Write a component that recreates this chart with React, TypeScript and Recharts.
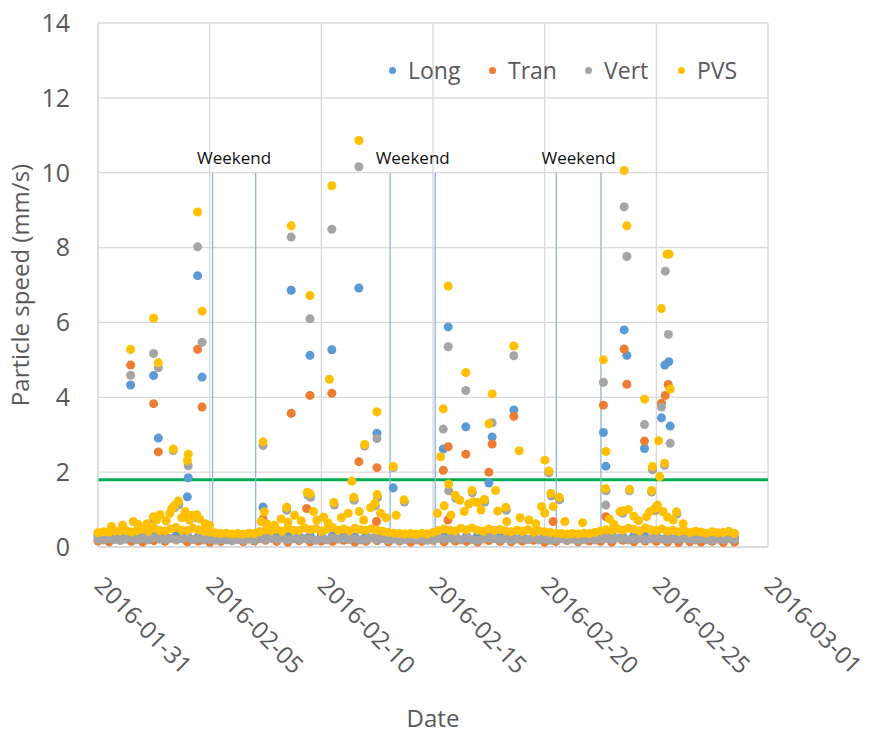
import React from 'react';
import {
  ScatterChart, Scatter, XAxis, YAxis, ZAxis, CartesianGrid, ReferenceLine, ReferenceDot,
} from 'recharts';

// x values are days after 2016-01-31
const xTicks = [0, 5, 10, 15, 20, 25, 30];
const xTickLabels = ['2016-01-31', '2016-02-05', '2016-02-10', '2016-02-15', '2016-02-20', '2016-02-25', '2016-03-01'];
const yTicks = [0, 2, 4, 6, 8, 10, 12, 14];

const seriesNames = ['Long', 'Tran', 'Vert', 'PVS'];
const seriesColors = ['#5B9BD5', '#ED7D31', '#A5A5A5', '#FFC000'];

const limitValue = 1.8;
const weekendStarts = [5.13, 13.08, 20.52];
const weekendEnds = [7.06, 15.1, 22.52];
const weekendTop = 10;
const weekendLabelY = 10.4;

// 6-hourly background readings
const baseTimes = [
  0, 0.25, 0.5, 0.75, 1, 1.25, 1.5, 1.75, 2, 2.25, 2.5, 2.75, 3, 3.25, 3.5, 3.75,
  4, 4.25, 4.5, 4.75, 5, 5.25, 5.5, 5.75, 6, 6.25, 6.5, 6.75, 7, 7.25, 7.5, 7.75,
  8, 8.25, 8.5, 8.75, 9, 9.25, 9.5, 9.75, 10, 10.25, 10.5, 10.75, 11, 11.25, 11.5, 11.75,
  12, 12.25, 12.5, 12.75, 13, 13.25, 13.5, 13.75, 14, 14.25, 14.5, 14.75, 15, 15.25, 15.5, 15.75,
  16, 16.25, 16.5, 16.75, 17, 17.25, 17.5, 17.75, 18, 18.25, 18.5, 18.75, 19, 19.25, 19.5, 19.75,
  20, 20.25, 20.5, 20.75, 21, 21.25, 21.5, 21.75, 22, 22.25, 22.5, 22.75, 23, 23.25, 23.5, 23.75,
  24, 24.25, 24.5, 24.75, 25, 25.25, 25.5, 25.75, 26, 26.25, 26.5, 26.75, 27, 27.25, 27.5, 27.75,
  28, 28.25, 28.5,
];
const pvsBase = [
  0.38, 0.41, 0.40, 0.43, 0.42, 0.45, 0.40, 0.44, 0.47, 0.42, 0.50, 0.44, 0.43, 0.48, 0.52, 0.45,
  0.44, 0.50, 0.46, 0.42, 0.40, 0.38, 0.36, 0.37, 0.35, 0.36, 0.34, 0.37, 0.36, 0.41, 0.45, 0.43,
  0.47, 0.42, 0.50, 0.45, 0.44, 0.51, 0.46, 0.49, 0.42, 0.47, 0.52, 0.45, 0.48, 0.43, 0.50, 0.46,
  0.45, 0.49, 0.44, 0.42, 0.39, 0.37, 0.36, 0.35, 0.36, 0.34, 0.37, 0.35, 0.39, 0.44, 0.48, 0.45,
  0.43, 0.50, 0.46, 0.51, 0.45, 0.42, 0.48, 0.44, 0.47, 0.43, 0.41, 0.45, 0.42, 0.46, 0.40, 0.43,
  0.41, 0.39, 0.37, 0.36, 0.34, 0.36, 0.35, 0.37, 0.36, 0.39, 0.43, 0.46, 0.44, 0.49, 0.45, 0.50,
  0.47, 0.43, 0.51, 0.46, 0.44, 0.48, 0.42, 0.45, 0.41, 0.44, 0.39, 0.42, 0.40, 0.37, 0.41, 0.38,
  0.39, 0.42, 0.36,
];
const vertBase = [
  0.21, 0.19, 0.22, 0.20, 0.18, 0.21, 0.23, 0.20, 0.22, 0.19, 0.24, 0.21, 0.20, 0.23, 0.19, 0.22,
  0.24, 0.20, 0.22, 0.19, 0.21, 0.18, 0.20, 0.19, 0.17, 0.20, 0.18, 0.21, 0.19, 0.22, 0.20, 0.23,
  0.21, 0.24, 0.19, 0.22, 0.20, 0.23, 0.21, 0.18, 0.22, 0.19, 0.24, 0.21, 0.23, 0.20, 0.22, 0.19,
  0.21, 0.24, 0.20, 0.22, 0.19, 0.21, 0.18, 0.20, 0.22, 0.19, 0.21, 0.18, 0.20, 0.23, 0.21, 0.24,
  0.22, 0.19, 0.23, 0.20, 0.18, 0.21, 0.24, 0.22, 0.20, 0.23, 0.19, 0.21, 0.22, 0.20, 0.24, 0.19,
  0.21, 0.18, 0.20, 0.22, 0.19, 0.21, 0.18, 0.20, 0.22, 0.19, 0.21, 0.23, 0.20, 0.24, 0.22, 0.19,
  0.21, 0.23, 0.20, 0.22, 0.24, 0.21, 0.19, 0.22, 0.20, 0.23, 0.21, 0.19, 0.22, 0.20, 0.18, 0.21,
  0.19, 0.22, 0.20,
];

// 12-hourly background readings
const halfTimes = [
  0, 0.5, 1, 1.5, 2, 2.5, 3, 3.5, 4, 4.5, 5, 5.5, 6, 6.5, 7, 7.5, 8, 8.5, 9, 9.5,
  10, 10.5, 11, 11.5, 12, 12.5, 13, 13.5, 14, 14.5, 15, 15.5, 16, 16.5, 17, 17.5, 18, 18.5, 19, 19.5,
  20, 20.5, 21, 21.5, 22, 22.5, 23, 23.5, 24, 24.5, 25, 25.5, 26, 26.5, 27, 27.5, 28, 28.5,
];
const longBase = [
  0.30, 0.28, 0.32, 0.29, 0.31, 0.33, 0.28, 0.30, 0.32, 0.29,
  0.27, 0.29, 0.31, 0.33, 0.30, 0.28, 0.32, 0.30, 0.29, 0.31,
  0.33, 0.30, 0.28, 0.27, 0.29, 0.31, 0.32, 0.30, 0.28, 0.29,
  0.31, 0.33, 0.30, 0.29, 0.32, 0.28, 0.30, 0.31, 0.29, 0.27,
  0.28, 0.30, 0.29, 0.31, 0.33, 0.30, 0.32, 0.29, 0.31, 0.28,
  0.30, 0.29, 0.27, 0.28, 0.30, 0.29, 0.28, 0.27,
];
const tranBase = [
  0.16, 0.14, 0.18, 0.15, 0.13, 0.17, 0.15, 0.19, 0.14, 0.16,
  0.13, 0.15, 0.17, 0.14, 0.16, 0.18, 0.15, 0.13, 0.17, 0.14,
  0.16, 0.15, 0.18, 0.13, 0.15, 0.17, 0.14, 0.16, 0.13, 0.15,
  0.18, 0.14, 0.16, 0.15, 0.13, 0.17, 0.15, 0.14, 0.16, 0.18,
  0.13, 0.15, 0.17, 0.14, 0.16, 0.15, 0.13, 0.18, 0.14, 0.16,
  0.15, 0.13, 0.12, 0.14, 0.13, 0.15, 0.12, 0.13,
];

// moderate weekday readings [day, mm/s]
const pvsMid = [
  [0.6, 0.55], [1.1, 0.58], [1.58, 0.68], [1.8, 0.6], [2.2, 0.62], [2.48, 0.81], [2.62, 0.72], [2.78, 0.86],
  [3.05, 0.7], [3.22, 0.9], [3.3, 1.02], [3.4, 1.1], [3.6, 1.23], [3.75, 0.78], [3.9, 0.95], [4.1, 0.72],
  [4.2, 0.84], [4.42, 0.86], [4.55, 0.75], [4.8, 0.62], [5.0, 0.58],
  [7.3, 0.68], [7.55, 0.62], [7.9, 0.58], [8.2, 0.75], [8.45, 1.06], [8.5, 0.66], [8.8, 0.85], [9.1, 0.7],
  [9.37, 1.46], [9.5, 1.42], [9.65, 0.95], [9.8, 0.72], [10.1, 0.8], [10.3, 0.65], [10.56, 1.19], [10.9, 0.78],
  [11.2, 0.9], [11.45, 1.33], [11.7, 0.95], [11.9, 0.72], [12.2, 1.05], [12.4, 1.17], [12.5, 1.4], [12.65, 0.9],
  [12.9, 0.78], [13.35, 0.85], [13.7, 1.26],
  [15.2, 0.9], [15.5, 1.1], [15.8, 0.85], [16.0, 1.38], [16.2, 1.25], [16.4, 0.95], [16.6, 1.15], [16.74, 1.51],
  [16.8, 1.21], [17.0, 1.19], [17.15, 0.99], [17.3, 1.27], [17.9, 0.96], [18.26, 1.06], [18.3, 0.68], [18.9, 0.78],
  [19.3, 0.72], [19.6, 0.62], [19.86, 1.08], [20.0, 0.91], [20.28, 1.43], [20.38, 1.08], [20.65, 1.33], [20.9, 0.68],
  [21.7, 0.65],
  [22.9, 0.75], [23.1, 0.6], [23.37, 0.94], [23.5, 0.97], [23.75, 1.0], [24.0, 0.82], [24.2, 0.7], [24.56, 0.81],
  [24.7, 0.94], [24.93, 1.03], [25.05, 1.12], [25.3, 0.95], [25.5, 0.8], [25.75, 0.72], [25.9, 0.94], [26.2, 0.62],
];
const vertMid = [
  [2.5, 0.74], [3.42, 1.05], [3.62, 1.13], [4.44, 0.78], [8.45, 0.98], [9.4, 1.38], [9.52, 1.33], [10.58, 1.12],
  [11.47, 1.25], [12.42, 1.1], [12.52, 1.32], [13.72, 1.2], [16.02, 1.3], [16.76, 1.45], [17.32, 1.2], [18.28, 0.98],
  [20.3, 1.36], [20.67, 1.26], [23.5, 0.9], [24.95, 0.97], [25.92, 0.88],
];

// event peaks [day, mm/s]
const longPeaks = [
  [1.46, 4.33], [2.49, 4.58], [2.7, 2.91], [4.0, 1.34], [4.04, 1.85], [4.46, 7.25], [4.66, 4.54], [7.39, 1.07],
  [8.65, 6.86], [9.49, 5.12], [10.47, 5.27], [11.68, 6.92], [12.49, 3.04], [13.22, 1.58], [15.46, 2.62], [15.68, 5.88],
  [16.47, 3.21], [17.5, 1.71], [17.65, 2.94], [18.62, 3.66], [22.63, 3.06], [22.74, 2.16], [23.56, 5.8], [23.68, 5.12],
  [24.47, 2.63], [25.23, 3.45], [25.38, 4.86], [25.56, 4.95], [25.62, 3.23],
];
const tranPeaks = [
  [1.46, 4.86], [2.49, 3.83], [2.7, 2.54], [4.04, 0.83], [4.46, 5.28], [4.66, 3.74], [7.39, 0.75], [8.65, 3.57],
  [9.34, 1.03], [9.49, 4.05], [10.47, 4.11], [11.68, 2.28], [12.47, 0.68], [12.49, 2.12], [15.46, 2.05], [15.67, 0.72],
  [15.68, 2.68], [16.47, 2.48], [17.5, 2.0], [17.65, 2.75], [18.62, 3.49], [20.38, 0.68], [22.63, 3.79], [22.74, 0.81],
  [23.56, 5.29], [23.68, 4.35], [24.47, 2.83], [25.23, 3.84], [25.4, 4.05], [25.53, 4.34],
];
const vertPeaks = [
  [1.46, 4.59], [2.49, 5.17], [2.7, 4.79], [3.37, 2.58], [4.04, 2.17], [4.46, 8.02], [4.66, 5.47], [7.39, 2.71],
  [8.65, 8.28], [9.49, 6.1], [10.47, 8.49], [11.68, 10.16], [11.94, 2.7], [12.49, 2.9], [13.22, 2.12], [15.46, 3.15],
  [15.68, 5.35], [15.7, 1.5], [16.47, 4.18], [17.65, 3.32], [18.62, 5.11], [20.19, 1.98], [22.63, 4.4], [22.74, 1.12],
  [22.75, 1.5], [23.56, 9.09], [23.68, 7.76], [23.8, 1.5], [24.47, 3.27], [24.79, 1.47], [24.83, 2.06], [25.23, 3.74],
  [25.37, 2.18], [25.4, 7.37], [25.54, 5.68], [25.62, 2.77],
];
const pvsPeaks = [
  [1.46, 5.28], [2.49, 6.11], [2.7, 4.92], [3.37, 2.62], [4.0, 2.31], [4.04, 2.48], [4.46, 8.95], [4.66, 6.3],
  [7.39, 2.81], [7.45, 0.94], [8.65, 8.58], [9.49, 6.72], [10.36, 4.48], [10.47, 9.65], [11.36, 1.76], [11.68, 10.86],
  [11.94, 2.74], [12.49, 3.61], [13.22, 2.15], [15.34, 2.41], [15.46, 3.69], [15.68, 6.97], [15.7, 1.68], [16.47, 4.66],
  [17.5, 3.29], [17.65, 4.09], [17.8, 1.51], [18.62, 5.37], [18.86, 2.57], [20.01, 2.32], [20.19, 2.03], [22.63, 5.0],
  [22.74, 2.55], [22.72, 1.56], [23.56, 10.06], [23.68, 8.58], [23.8, 1.54], [24.47, 3.95], [24.79, 1.51], [24.83, 2.15],
  [25.1, 2.84], [25.15, 1.88], [25.23, 6.37], [25.37, 2.24], [25.48, 7.82], [25.57, 7.83], [25.62, 4.22],
];

const toPts = (ts: number[], vs: number[]) => ts.map((t, i) => ({ t, v: vs[i] }));
const fromPairs = (arr: number[][]) => arr.map(([t, v]) => ({ t, v }));

const longData = [...toPts(halfTimes, longBase), ...fromPairs(longPeaks)];
const tranData = [...toPts(halfTimes, tranBase), ...fromPairs(tranPeaks)];
const vertData = [...toPts(baseTimes, vertBase), ...fromPairs(vertMid), ...fromPairs(vertPeaks)];
const pvsData = [...toPts(baseTimes, pvsBase), ...fromPairs(pvsMid), ...fromPairs(pvsPeaks)];
const allData = [longData, tranData, vertData, pvsData];

const TEXT = '#595959';
const GRID = '#d9d9d9';

const XTick = (props: any) => {
  const { x, y, payload } = props;
  const idx = xTicks.indexOf(payload.value);
  const px = x - 5;
  const py = y + 40;
  return (
    <text x={px} y={py} transform={`rotate(45, ${px}, ${py})`} textAnchor="start" fontSize={24} fill={TEXT}>
      {idx >= 0 ? xTickLabels[idx] : ''}
    </text>
  );
};

const YTitle = (props: any) => {
  const vb = props.viewBox || { x: 0, y: 0, width: 0, height: 0 };
  const x = vb.x + 29;
  const y = vb.y + vb.height / 2;
  return (
    <text x={x} y={y} transform={`rotate(-90, ${x}, ${y})`} textAnchor="middle" fontSize={24} fill={TEXT}>
      Particle speed (mm/s)
    </text>
  );
};

const legendWidths = [100, 96, 93, 70];
const LegendBox = () => (
  <div style={{ position: 'absolute', left: 389, top: 55, display: 'flex', alignItems: 'center', height: 30 }}>
    {seriesNames.map((n, i) => (
      <div key={n} style={{ display: 'flex', alignItems: 'center', width: legendWidths[i] }}>
        <span style={{ display: 'inline-block', width: 7, height: 7, borderRadius: '50%', background: seriesColors[i], marginRight: 12 }} />
        <span style={{ fontSize: 23, color: TEXT, lineHeight: '30px' }}>{n}</span>
      </div>
    ))}
  </div>
);

export default function App() {
  return (
    <div style={{ position: 'absolute', left: 0, top: 0, width: 870, height: 735, background: '#fff', fontFamily: '"Open Sans", sans-serif' }}>
      <ScatterChart width={870} height={735} margin={{ top: 23, right: 102, bottom: 0, left: 0 }}>
        <CartesianGrid stroke={GRID} strokeWidth={1.3} />
        <XAxis
          type="number"
          dataKey="t"
          domain={[0, 30]}
          ticks={xTicks}
          interval={0}
          height={188}
          tickLine={false}
          tickSize={0}
          tickMargin={0}
          axisLine={{ stroke: GRID, strokeWidth: 1.3 }}
          tick={<XTick />}
          label={{ value: 'Date', position: 'insideBottom', offset: 8, fontSize: 24, fill: TEXT }}
        />
        <YAxis
          type="number"
          dataKey="v"
          domain={[0, 14]}
          ticks={yTicks}
          interval={0}
          width={98}
          tickLine={false}
          tickSize={0}
          tickMargin={28}
          axisLine={{ stroke: GRID, strokeWidth: 1.3 }}
          tick={{ fontSize: 25, fill: TEXT }}
          label={{ content: <YTitle /> }}
        />
        <ZAxis range={[52, 52]} />
        <ReferenceLine y={limitValue} stroke="#00B050" strokeWidth={3} />
        {weekendStarts.map((s, i) => (
          <ReferenceLine key={'ws' + i} segment={[{ x: s, y: 0 }, { x: s, y: weekendTop }]} stroke="#8DB4E2" strokeWidth={1.3} />
        ))}
        {weekendEnds.map((s, i) => (
          <ReferenceLine key={'we' + i} segment={[{ x: s, y: 0 }, { x: s, y: weekendTop }]} stroke="#8DB4E2" strokeWidth={1.3} />
        ))}
        {weekendStarts.map((s, i) => (
          <ReferenceDot
            key={'wl' + i}
            x={(s + weekendEnds[i]) / 2}
            y={weekendLabelY}
            r={1}
            fill="none"
            stroke="none"
            label={{ value: 'Weekend', position: 'center', fontSize: 17, fill: '#111' }}
          />
        ))}
        {seriesNames.map((n, i) => (
          <Scatter key={n} name={n} data={allData[i]} fill={seriesColors[i]} isAnimationActive={false} />
        ))}
      </ScatterChart>
      <LegendBox />
    </div>
  );
}
